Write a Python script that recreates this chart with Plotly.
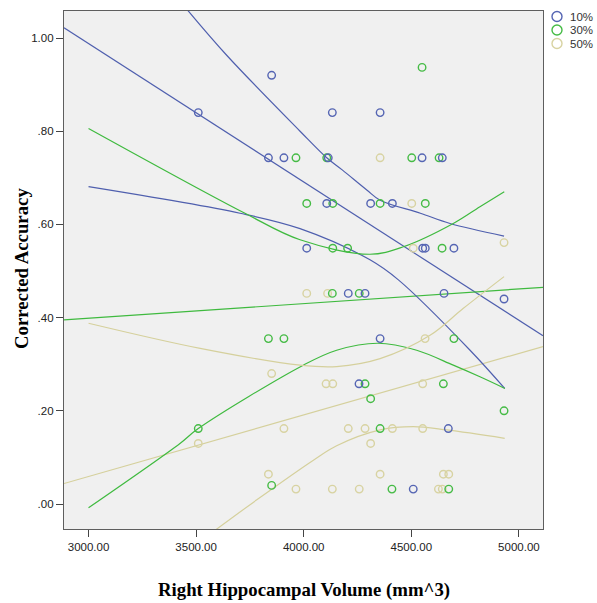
import plotly.graph_objects as go

# ---- scatter data: right hippocampal volume (mm^3) vs corrected accuracy ----
blue_x = [3510, 3851, 4133, 4355, 3836, 3908, 4114, 4550, 4644, 4107, 4311, 4412,
          4014, 4553, 4565, 4698, 4207, 4285, 4652, 4931, 4355, 4257, 4672, 4509]
blue_y = [0.84, 0.92, 0.84, 0.84, 0.743, 0.743, 0.743, 0.743, 0.743, 0.645, 0.645, 0.645,
          0.549, 0.549, 0.549, 0.549, 0.452, 0.452, 0.452, 0.44, 0.355, 0.258, 0.162, 0.032]

green_x = [4550, 3964, 4107, 4502, 4629, 4014, 4135, 4355, 4565, 4135, 4204, 4643,
           4133, 4258, 3836, 3908, 4698, 4285, 4649, 4311, 4931, 3510, 4355, 3851,
           4410, 4674]
green_y = [0.937, 0.743, 0.743, 0.743, 0.743, 0.645, 0.645, 0.645, 0.645, 0.549, 0.549, 0.549,
           0.452, 0.452, 0.355, 0.355, 0.355, 0.258, 0.258, 0.226, 0.2, 0.162, 0.162, 0.04,
           0.032, 0.032]

tan_x = [4355, 4502, 4509, 4931, 4014, 4111, 4564, 3851, 4104, 4135, 4553, 3908,
         4207, 4285, 4412, 4553, 3510, 4311, 3836, 4355, 4649, 4674, 3964, 4133,
         4258, 4626, 4644]
tan_y = [0.743, 0.645, 0.549, 0.561, 0.452, 0.452, 0.355, 0.28, 0.258, 0.258, 0.258, 0.162,
         0.162, 0.162, 0.162, 0.162, 0.13, 0.13, 0.064, 0.064, 0.064, 0.064, 0.032, 0.032,
         0.032, 0.032, 0.032]

# ---- fit lines (linear across the axis, curved fits across the data span) ----
blue_lin_x = [2886, 5112]
blue_lin_y = [1.022, 0.361]
blue_c1_x = [3440, 3642, 3983, 4107, 4179, 4293, 4355, 4542, 4680, 4931]
blue_c1_y = [1.071, 0.963, 0.80, 0.743, 0.717, 0.674, 0.652, 0.624, 0.602, 0.575]
blue_c2_x = [3000, 3704, 3983, 4308, 4440, 4773, 4934]
blue_c2_y = [0.681, 0.624, 0.591, 0.524, 0.481, 0.330, 0.248]

green_lin_x = [2886, 5112]
green_lin_y = [0.395, 0.465]
green_c1_x = [3000, 3727, 3983, 4308, 4463, 4695, 4819, 4932]
green_c1_y = [0.806, 0.624, 0.567, 0.536, 0.552, 0.602, 0.638, 0.670]
green_c2_x = [3000, 3425, 3510, 3998, 4153, 4345, 4525, 4695, 4819, 4935]
green_c2_y = [-0.008, 0.130, 0.162, 0.298, 0.330, 0.345, 0.330, 0.298, 0.273, 0.248]

tan_lin_x = [2886, 5112]
tan_lin_y = [0.044, 0.338]
tan_c1_x = [3000, 3519, 3983, 4153, 4355, 4587, 4742, 4931]
tan_c1_y = [0.388, 0.334, 0.298, 0.295, 0.312, 0.362, 0.420, 0.488]
tan_c2_x = [3560, 3782, 4045, 4153, 4355, 4509, 4665, 4934]
tan_c2_y = [-0.066, 0.009, 0.094, 0.125, 0.159, 0.166, 0.159, 0.141]

groups = ["10%", "30%", "50%"]
x_ticks = [3000, 3500, 4000, 4500, 5000]
x_tick_text = ["3000.00", "3500.00", "4000.00", "4500.00", "5000.00"]
y_ticks = [0.0, 0.2, 0.4, 0.6, 0.8, 1.0]
y_tick_text = [".00", ".20", ".40", ".60", ".80", "1.00"]

BLUE, GREEN, TAN = "#5565b3", "#45bb45", "#d8d3a2"
BLUE_L, GREEN_L, TAN_L = "#4f5fae", "#3fba3f", "#d5d09c"

fig = go.Figure()

def add_line(x, y, color, spline=True):
    fig.add_trace(go.Scatter(
        x=x, y=y, mode="lines", showlegend=False, hoverinfo="skip",
        line=dict(color=color, width=1.2, shape="spline" if spline else "linear"),
    ))

for lx, ly, col in [(blue_lin_x, blue_lin_y, BLUE_L), (green_lin_x, green_lin_y, GREEN_L),
                    (tan_lin_x, tan_lin_y, TAN_L)]:
    add_line(lx, ly, col, spline=False)
for lx, ly, col in [(blue_c1_x, blue_c1_y, BLUE_L), (blue_c2_x, blue_c2_y, BLUE_L),
                    (green_c1_x, green_c1_y, GREEN_L), (green_c2_x, green_c2_y, GREEN_L),
                    (tan_c1_x, tan_c1_y, TAN_L), (tan_c2_x, tan_c2_y, TAN_L)]:
    add_line(lx, ly, col)

for name, xs, ys, col in [(groups[2], tan_x, tan_y, TAN),
                          (groups[1], green_x, green_y, GREEN),
                          (groups[0], blue_x, blue_y, BLUE)]:
    fig.add_trace(go.Scatter(
        x=xs, y=ys, mode="markers", name=name, showlegend=False,
        marker=dict(symbol="circle-open", size=7.5, color=col, line=dict(width=1.4, color=col)),
        cliponaxis=True,
    ))

# plot-area geometry (pixels)
L, R, T, B = 64, 543, 11, 529
W, H = 597, 603
pw, ph = R - L, B - T

def px_x(p):
    return (p - L) / pw

def px_y(p):
    return (B - p) / ph

# legend drawn as shapes + labels in the top-right margin
legend_rows = [16.5, 30.0, 43.5]
for label, col, cy in zip(groups, [BLUE, GREEN, TAN], legend_rows):
    r = 5.0
    fig.add_shape(type="circle", xref="paper", yref="paper",
                  x0=px_x(557 - r), x1=px_x(557 + r), y0=px_y(cy + r), y1=px_y(cy - r),
                  line=dict(color=col, width=1.4), fillcolor="rgba(0,0,0,0)")
    fig.add_annotation(xref="paper", yref="paper", x=px_x(568), y=px_y(cy),
                       xanchor="left", yanchor="middle", text=label, showarrow=False,
                       font=dict(family="Liberation Sans", size=11.5, color="#333333"))

title_font = dict(family="Liberation Serif", size=18.8, color="#000000")
fig.add_annotation(xref="paper", yref="paper", x=px_x(303.5), y=px_y(590),
                   xanchor="center", yanchor="middle", showarrow=False,
                   text="<b>Right Hippocampal Volume (mm^3)</b>", font=title_font)
fig.add_annotation(xref="paper", yref="paper", x=px_x(21), y=px_y(269),
                   xanchor="center", yanchor="middle", showarrow=False, textangle=-90,
                   text="<b>Corrected Accuracy</b>", font=title_font)

tick_font = dict(family="Liberation Sans", size=11.5, color="#222222")
fig.update_layout(
    width=W, height=H,
    margin=dict(l=L, r=W - R, t=T, b=H - B, pad=0),
    paper_bgcolor="#ffffff",
    plot_bgcolor="#f0f0f0",
    xaxis=dict(range=[2886, 5112], tickvals=x_ticks, ticktext=x_tick_text,
               showgrid=False, zeroline=False, showline=True, mirror=True,
               linecolor="#5e5e5e", linewidth=1.2, ticks="outside", ticklen=7,
               tickcolor="#444444", tickfont=tick_font),
    yaxis=dict(range=[-0.0536, 1.058], tickvals=y_ticks, ticktext=y_tick_text,
               showgrid=False, zeroline=False, showline=True, mirror=True,
               linecolor="#5e5e5e", linewidth=1.2, ticks="outside", ticklen=7,
               tickcolor="#444444", tickfont=tick_font),
    showlegend=False,
)

fig.write_html("out.html")
